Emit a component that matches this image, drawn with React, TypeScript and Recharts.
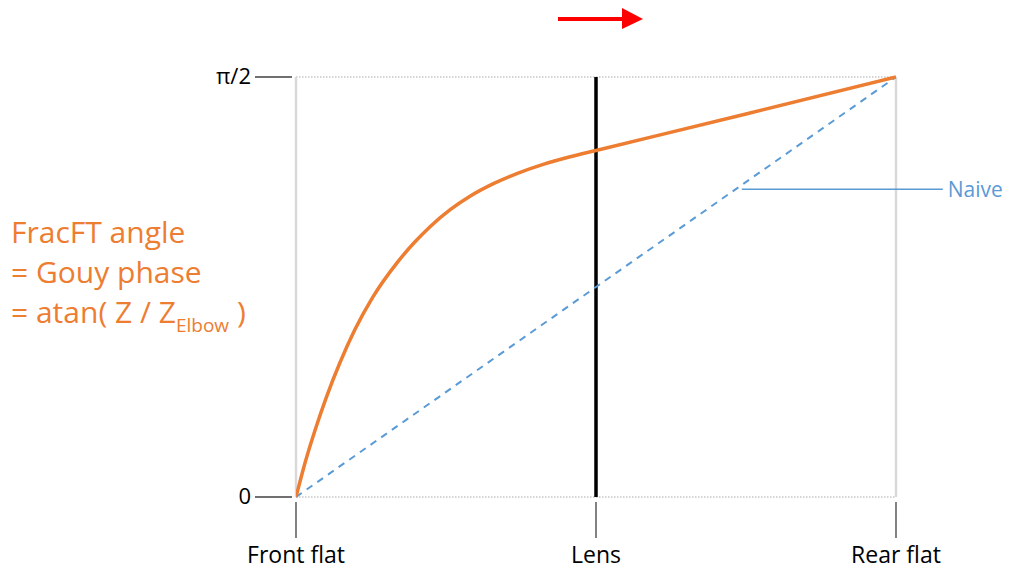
import React from 'react';
import { ComposedChart, Line, XAxis, YAxis, ReferenceLine } from 'recharts';

// Positions along the optical path: 0 = Front flat, 0.5 = Lens, 1 = Rear flat
const positions = [0, 0.015, 0.032, 0.051, 0.073, 0.098, 0.128, 0.168, 0.198, 0.223, 0.257, 0.29, 0.329, 0.368, 0.412, 0.457, 0.5, 0.75, 1];
// FracFT angle (Gouy phase) as a fraction of π/2
const gouyPhase = [0, 0.081, 0.16, 0.239, 0.319, 0.398, 0.476, 0.557, 0.607, 0.643, 0.684, 0.716, 0.746, 0.77, 0.792, 0.81, 0.825, 0.912, 1];
// Naive linear assumption
const naivePositions = [0, 1];
const naivePhase = [0, 1];

const xTicks = [0, 0.5, 1];
const xTickLabels = ['Front flat', 'Lens', 'Rear flat'];
const yTicks = [0, 1];
const yTickLabels = ['0', 'π/2'];

const naiveCallout = { x1: 0.743, x2: 1.078, y: 0.733 };

const gouyData = positions.map((p, i) => ({ x: p, y: gouyPhase[i] }));
const naiveData = naivePositions.map((p, i) => ({ x: p, y: naivePhase[i] }));

const FONT = '"Open Sans", Lato, sans-serif';
const ORANGE = '#ED7D31';
const BLUE = '#5B9BD5';

const YTick = (props: any) => {
  const { x, y, index } = props;
  return (
    <g>
      <line x1={x - 41} x2={x - 4} y1={y} y2={y} stroke="#404040" strokeWidth={1.3} />
      <text x={x - 45} y={y} dy={7} textAnchor="end" fontSize={22} fontFamily={FONT} fill="#000">
        {yTickLabels[index]}
      </text>
    </g>
  );
};

const XTick = (props: any) => {
  const { x, y, index } = props;
  return (
    <g>
      <line x1={x} x2={x} y1={y + 5} y2={y + 41} stroke="#404040" strokeWidth={1.3} />
      <text x={x} y={y + 66} textAnchor="middle" fontSize={23} fontFamily={FONT} fill="#000">
        {xTickLabels[index]}
      </text>
    </g>
  );
};

export default function App() {
  return (
    <div style={{ position: 'absolute', left: 0, top: 0, width: 1014, height: 569, background: '#fff' }}>
      <ComposedChart
        width={1014}
        height={569}
        margin={{ top: 77, right: 118, bottom: 42, left: 236 }}
      >
        <XAxis
          type="number"
          dataKey="x"
          domain={[0, 1]}
          ticks={xTicks}
          tick={<XTick />}
          tickSize={0}
          tickMargin={0}
          axisLine={false}
          tickLine={false}
          height={30}
          allowDataOverflow
        />
        <YAxis
          type="number"
          dataKey="y"
          domain={[0, 1]}
          ticks={yTicks}
          tick={<YTick />}
          tickSize={0}
          tickMargin={0}
          axisLine={false}
          tickLine={false}
          width={60}
        />
        <ReferenceLine y={1} stroke="#c8c8c8" strokeWidth={1.5} strokeDasharray="1.5 1.5" />
        <ReferenceLine y={0} stroke="#c8c8c8" strokeWidth={1.5} strokeDasharray="1.5 1.5" />
        <ReferenceLine x={0} stroke="#d9d9d9" strokeWidth={2.5} />
        <ReferenceLine x={1} stroke="#d9d9d9" strokeWidth={2.5} />
        <ReferenceLine x={0.5} stroke="#000" strokeWidth={3.5} />
        <ReferenceLine
          segment={[
            { x: naiveCallout.x1, y: naiveCallout.y },
            { x: naiveCallout.x2, y: naiveCallout.y },
          ]}
          ifOverflow="visible"
          stroke={BLUE}
          strokeWidth={1.5}
          label={{ value: 'Naive', position: 'right', offset: 5, fill: BLUE, fontSize: 21, fontFamily: FONT }}
        />
        <Line
          data={naiveData}
          dataKey="y"
          type="linear"
          stroke={BLUE}
          strokeWidth={2}
          strokeDasharray="7 6"
          dot={false}
          isAnimationActive={false}
        />
        <Line
          data={gouyData}
          dataKey="y"
          type="monotone"
          stroke={ORANGE}
          strokeWidth={3.5}
          dot={false}
          isAnimationActive={false}
        />
      </ComposedChart>
      <svg
        width={1014}
        height={569}
        style={{ position: 'absolute', left: 0, top: 0, pointerEvents: 'none' }}
      >
        <text x={11} fontSize={30} fontFamily={FONT} fill={ORANGE}>
          <tspan x={11} y={243}>FracFT angle</tspan>
          <tspan x={11} y={283}>= Gouy phase</tspan>
          <tspan x={11} y={323}>
            = atan( Z / Z
            <tspan fontSize={19} dy={9}>Elbow</tspan>
            <tspan dy={-9}> )</tspan>
          </tspan>
        </text>
        <line x1={558} x2={625} y1={19} y2={19} stroke="#FF0000" strokeWidth={4} />
        <polygon points="622,8 643,19 622,29" fill="#FF0000" />
      </svg>
    </div>
  );
}
